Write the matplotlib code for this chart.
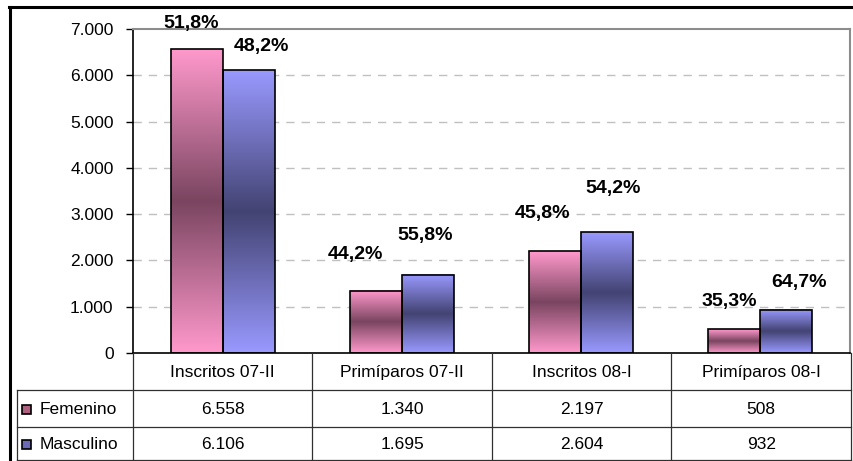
import numpy as np
import matplotlib
matplotlib.use("Agg")
import matplotlib.pyplot as plt
from matplotlib.colors import LinearSegmentedColormap
from matplotlib.patches import Rectangle
from matplotlib.ticker import FuncFormatter, MultipleLocator

plt.rcParams['font.family'] = ['Liberation Sans', 'DejaVu Sans']

categories = ["Inscritos 07-II", "Primíparos 07-II", "Inscritos 08-I", "Primíparos 08-I"]
femenino = [6558, 1340, 2197, 508]
masculino = [6106, 1695, 2604, 932]
series_names = ["Femenino", "Masculino"]

# label offsets (points) for the percentage labels, as placed in the original
lab_off_f = [(-4, 19), (-15, 26), (-9, 27), (-4, 20)]
lab_off_m = [(9, 17), (-2, 28), (4, 32), (9, 20)]

W, H = 854, 461


def fx(px):
    return px / W


def fy(py):
    return 1 - py / H


def miles(v):
    return "{:,}".format(int(v)).replace(",", ".")


def pct(v):
    return ("%.1f%%" % v).replace(".", ",")


pink_cm = LinearSegmentedColormap.from_list("pk", ["#ff99cc", "#7a4560", "#ff99cc"])
blue_cm = LinearSegmentedColormap.from_list("bl", ["#9999ff", "#434373", "#9999ff"])

fig = plt.figure(figsize=(W / 100, H / 100), dpi=100)

# plot area
x_left, x_right, y_top, y_bot = 133, 850, 29, 353
ax = fig.add_axes([fx(x_left), fy(y_bot), fx(x_right - x_left), (y_bot - y_top) / H])

n = len(categories)
x = np.arange(n)
bw = 0.29
grad = np.linspace(0, 1, 256).reshape(-1, 1)
for vals, cm, sh in [(femenino, pink_cm, -bw / 2), (masculino, blue_cm, bw / 2)]:
    for xi, v in zip(x, vals):
        x0 = xi + sh - bw / 2
        ax.imshow(grad, extent=(x0, x0 + bw, 0, v), cmap=cm, aspect="auto",
                  origin="lower", zorder=2, interpolation="bilinear")
        ax.add_patch(Rectangle((x0, 0), bw, v, fill=False, ec="black", lw=1.2, zorder=3))

for i in range(n):
    tot = femenino[i] + masculino[i]
    for v, sh, off in [(femenino[i], -bw / 2, lab_off_f[i]), (masculino[i], bw / 2, lab_off_m[i])]:
        ax.annotate(pct(100 * v / tot), xy=(x[i] + sh, v), xytext=off,
                    textcoords="offset points", ha="center", va="center",
                    fontsize=14, fontweight="bold", zorder=5, annotation_clip=False)

ax.set_xlim(-0.5, n - 0.5)
ax.set_ylim(0, 7000)
ax.yaxis.set_major_locator(MultipleLocator(1000))
ax.yaxis.set_major_formatter(FuncFormatter(lambda v, p: miles(v)))
ax.tick_params(axis="y", length=5, width=1, pad=9, labelsize=12.5, direction="out")
ax.set_xticks([])
for yv in range(1000, 7000, 1000):
    ax.axhline(yv, color="#c0c0c0", lw=1, ls=(0, (6, 5)), zorder=1)
ax.spines["left"].set_color("black")
ax.spines["bottom"].set_color("black")
ax.spines["top"].set_color("#8c8c8c")
ax.spines["right"].set_color("#8c8c8c")
for s in ["top", "right"]:
    ax.spines[s].set_linewidth(1.5)
for s in ["left", "bottom"]:
    ax.spines[s].set_linewidth(1.2)

# overlay in pixel coordinates for data table and frame
ov = fig.add_axes([0, 0, 1, 1], facecolor="none")
ov.set_xlim(0, W)
ov.set_ylim(H, 0)
ov.axis("off")

tab_right = 851
tab_left = 17
r1, r2, r3 = 390, 427, 460
colw = (tab_right - x_left) / n
col_edges = [x_left + k * colw for k in range(n + 1)]
lc = "#303030"
for xe in col_edges:
    ov.plot([xe, xe], [y_bot, r3], color=lc, lw=0.9)
ov.plot([tab_left, tab_left], [r1, r3], color=lc, lw=0.9)
for yr in (r1, r2, r3):
    ov.plot([tab_left, tab_right], [yr, yr], color=lc, lw=0.9)

for k, c in enumerate(categories):
    ov.text(col_edges[k] + colw / 2, (y_bot + r1) / 2 + 1, c, ha="center", va="center", fontsize=12.5)

rows = [(femenino, r1, r2, "#b0607f", series_names[0]),
        (masculino, r2, r3, "#6a6ab8", series_names[1])]
for vals, ya, yb, sw, name in rows:
    yc = (ya + yb) / 2 + 1
    ov.add_patch(Rectangle((22, yc - 4.5), 9, 9, fc=sw, ec="black", lw=1.2))
    ov.text(40, yc, name, ha="left", va="center", fontsize=12.5)
    for k, v in enumerate(vals):
        ov.text(col_edges[k] + colw / 2, yc, miles(v), ha="center", va="center", fontsize=12.5)

# outer chart frame
ov.plot([10.5, 10.5], [7, H + 5], color="black", lw=2.2)
ov.plot([9.5, W + 5], [7.5, 7.5], color="black", lw=2.2)

fig.savefig("out.png", dpi=100)
